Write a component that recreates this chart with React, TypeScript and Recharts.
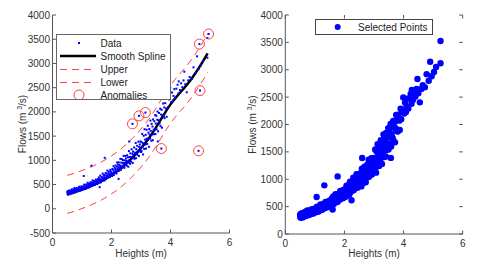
import {
  ComposedChart,
  Legend,
  Line,
  Scatter,
  XAxis,
  YAxis,
} from "recharts";

// gauged readings: stage height (m) vs flow (m3/s)
const HEIGHTS = [
  0.5, 0.51, 0.52, 0.52, 0.53, 0.54, 0.55, 0.56, 0.57, 0.58, 0.59, 0.6, 0.61, 0.63, 0.64, 0.65, 0.66, 0.67,
  0.69, 0.7, 0.71, 0.72, 0.74, 0.75, 0.76, 0.77, 0.79, 0.8, 0.81, 0.82, 0.84, 0.85, 0.86, 0.87, 0.89, 0.9,
  0.91, 0.93, 0.94, 0.95, 0.96, 0.97, 0.98, 0.99, 1.0,
  1.01, 1.02, 1.03, 1.05, 1.06, 1.06, 1.07, 1.09, 1.1, 1.11, 1.12, 1.14, 1.15, 1.16, 1.17, 1.19, 1.2, 1.21,
  1.22, 1.24, 1.25, 1.26, 1.27, 1.29, 1.3, 1.31, 1.32, 1.32, 1.34, 1.35, 1.36, 1.37, 1.39, 1.4, 1.41, 1.42,
  1.44, 1.45, 1.46, 1.47, 1.48, 1.49, 1.5,
  1.51, 1.52, 1.54, 1.55, 1.56, 1.57, 1.59, 1.6, 1.6, 1.61, 1.62, 1.64, 1.65, 1.66, 1.67, 1.69, 1.7, 1.71,
  1.72, 1.74, 1.75, 1.76, 1.77, 1.77, 1.79, 1.8, 1.81, 1.82, 1.84, 1.85, 1.86, 1.87, 1.89, 1.9, 1.91, 1.92,
  1.94, 1.95, 1.96, 1.97, 1.98, 2.0,
  2.01, 2.02, 2.03, 2.04, 2.06, 2.07, 2.08, 2.09, 2.11, 2.12, 2.13, 2.14, 2.15, 2.17, 2.18, 2.19, 2.2, 2.21,
  2.22, 2.24, 2.24, 2.25, 2.26, 2.27, 2.28, 2.3, 2.31, 2.32, 2.33, 2.34, 2.35, 2.37, 2.38, 2.39, 2.4, 2.41,
  2.42, 2.44, 2.45, 2.46, 2.47, 2.48, 2.49, 2.5,
  2.51, 2.52, 2.53, 2.55, 2.56, 2.57, 2.58, 2.59, 2.61, 2.62, 2.63, 2.64, 2.66, 2.67, 2.68, 2.69, 2.71, 2.72,
  2.73, 2.74, 2.76, 2.77, 2.78, 2.79, 2.81, 2.82, 2.83, 2.84, 2.86, 2.87, 2.88, 2.89, 2.91, 2.92, 2.93, 2.94,
  2.96, 2.97, 2.98, 2.99, 3.0, 2.6,
  3.01, 3.02, 3.04, 3.05, 3.06, 3.07, 3.09, 3.1, 3.11, 3.12, 3.14, 3.15, 3.16, 3.17, 3.19, 3.2, 3.21, 3.23,
  3.24, 3.25, 3.27, 3.28, 3.29, 3.31, 3.32, 3.33, 3.35, 3.36, 3.37, 3.39, 3.4, 3.41, 3.43, 3.44, 3.45, 3.47,
  3.48, 3.49, 3.5, 3.57,
  3.52, 3.53, 3.55, 3.56, 3.58, 3.6, 3.61, 3.63, 3.65, 3.66, 3.68, 3.7, 3.71, 3.73, 3.75, 3.77, 3.79, 3.8,
  3.82, 3.85, 3.87, 3.9, 3.92, 3.95, 3.99, 4.02,
  4.05, 4.08, 4.1, 4.13, 4.16, 4.2, 4.24, 4.27, 4.28, 4.32, 4.36, 4.4, 4.44, 4.47, 4.5,
  4.55, 4.6, 4.65, 4.72, 4.78, 4.85, 4.9, 4.95, 5.03, 5.1, 5.25, 5.25,
];
const FLOWS = [
  350, 307, 329, 364, 296, 323, 350, 312, 379, 336, 303, 355, 332, 381, 323, 360, 402, 339,
  358, 330, 387, 359, 428, 345, 377, 409, 368, 345, 397, 429, 368, 390, 422, 364, 408, 455,
  387, 401, 443, 375, 427, 404, 461, 423, 400,
  418, 460, 398, 443, 676, 415, 498, 433, 465, 408, 455, 501, 433, 486, 458, 538, 436, 488,
  516, 466, 489, 446, 519, 549, 476, 509, 496, 889, 541, 474, 586, 514, 539, 502, 574, 517,
  492, 564, 542, 604, 527, 559, 587,
  556, 509, 611, 550, 588, 647, 539, 447, 612, 581, 684, 546, 610, 658, 587, 649, 727, 586,
  624, 696, 650, 583, 1052, 687, 639, 737, 611, 684, 726, 650, 788, 682, 644, 727, 766, 689,
  721, 655, 803, 697, 765, 732,
  742, 677, 821, 721, 796, 880, 695, 765, 844, 744, 819, 894, 783, 728, 868, 957, 822, 777,
  912, 617, 861, 956, 786, 901, 840, 1030, 885, 804, 954, 879, 1024, 843, 943, 1003, 887, 1092,
  942, 846, 1001, 946, 1091, 905, 1040, 990,
  981, 888, 1104, 947, 1063, 869, 996, 1192, 965, 1071, 927, 1144, 1066, 973, 1229, 1045, 1138, 944,
  1181, 1107, 1050, 1266, 1032, 1159, 1136, 1358, 1044, 1231, 1133, 1300, 1116, 1192, 1385, 1181, 1088, 1274,
  1327, 1193, 1389, 1246, 1172, 1388,
  1380, 1189, 1545, 1274, 1352, 1121, 1507, 1346, 1234, 1642, 1429, 1327, 1526, 1244, 1631, 1449, 1338, 1714,
  1433, 1571, 1278, 1646, 1534, 1451, 1820, 1608, 1405, 1753, 1531, 1698, 1416, 1845, 1632, 1540, 1808, 1635,
  1934, 1542, 1760, 1390,
  1919, 1639, 1838, 2008, 1598, 1827, 1977, 1756, 2066, 1705, 1945, 2044, 1674, 1933, 2173, 1902, 2092, 1871,
  2181, 2070, 1899, 2288, 2098, 2257, 2495, 2201,
  2400, 2230, 2330, 2470, 2290, 2480, 2560, 2380, 2630, 2450, 2590, 2510, 2650, 2830, 2570,
  2405, 2650, 2720, 2680, 2920, 2800, 3147, 2880, 2960, 3050, 3118, 3525,
];

const ANOMALY_H = [2.71, 2.93, 3.15, 3.69, 4.95, 5.0, 4.98, 5.29];
const ANOMALY_F = [1753, 1918, 1986, 1243, 1196, 2440, 3400, 3608];

const SPLINE_H = [0.5, 0.75, 1, 1.25, 1.5, 1.75, 2, 2.25, 2.5, 2.75, 3, 3.25, 3.5, 3.75, 4, 4.25, 4.5, 4.75, 5, 5.26];
const SPLINE_F = [295, 340, 395, 455, 522, 602, 697, 805, 935, 1083, 1252, 1442, 1670, 1920, 2155, 2345, 2520, 2717, 2945, 3210];
const UPPER_F = [690, 735, 790, 850, 917, 997, 1092, 1200, 1330, 1478, 1647, 1837, 2065, 2315, 2550, 2740, 2915, 3112, 3340, 3605];
const LOWER_F = [-95, -50, 5, 65, 132, 212, 307, 415, 545, 693, 862, 1052, 1280, 1530, 1765, 1955, 2130, 2327, 2555, 2820];

const X_TICKS = [0, 2, 4, 6];
const Y_TICKS_LEFT = [-500, 0, 500, 1000, 1500, 2000, 2500, 3000, 3500, 4000];
const Y_TICKS_RIGHT = [0, 500, 1000, 1500, 2000, 2500, 3000, 3500, 4000];

const LEFT_LEGEND = ["Data", "Smooth Spline", "Upper", "Lower", "Anomalies"];
const RIGHT_LEGEND = ["Selected Points"];

const FONT = "'Liberation Sans', Arial, sans-serif";
const TEXT = "#333";
const AXIS = "#555";
const BLUE = "#0000ff";
const RED = "#ff4040";

const dataPts = HEIGHTS.map((x, i) => ({ x, y: FLOWS[i] }));
const anomalyPts = ANOMALY_H.map((x, i) => ({ x, y: ANOMALY_F[i] }));
const allPts = [...dataPts, ...anomalyPts];
const splineRows = SPLINE_H.map((x, i) => ({ x, v: SPLINE_F[i] }));
const upperRows = SPLINE_H.map((x, i) => ({ x, v: UPPER_F[i] }));
const lowerRows = SPLINE_H.map((x, i) => ({ x, v: LOWER_F[i] }));

const TICK_LEN = 3.5;

// MATLAB style: ticks point into the plot
function leftTick(axisX: number, mirrorX?: number) {
  return (p: any) => (
    <g>
      <line x1={axisX} x2={axisX + TICK_LEN} y1={p.y} y2={p.y} stroke={AXIS} />
      {mirrorX !== undefined && (
        <line x1={mirrorX} x2={mirrorX - TICK_LEN} y1={p.y} y2={p.y} stroke={AXIS} />
      )}
      <text x={axisX - 2.5} y={p.y + 3.5} textAnchor="end" fontSize={10} fill={TEXT} fontFamily={FONT}>
        {p.payload.value}
      </text>
    </g>
  );
}

function bottomTick(axisY: number, topY?: number) {
  return (p: any) => (
    <g>
      <line x1={p.x} x2={p.x} y1={axisY} y2={axisY - TICK_LEN} stroke={AXIS} />
      {topY !== undefined && (
        <line x1={p.x} x2={p.x} y1={topY} y2={topY + TICK_LEN} stroke={AXIS} />
      )}
      <text x={p.x} y={axisY + 12.5} textAnchor="middle" fontSize={10} fill={TEXT} fontFamily={FONT}>
        {p.payload.value}
      </text>
    </g>
  );
}

function xTitle(cx: number) {
  return () => (
    <text x={cx} y={257} textAnchor="middle" fontSize={10} fill={TEXT} fontFamily={FONT}>
      Heights (m)
    </text>
  );
}

function yTitle(cx: number, cy: number) {
  return () => (
    <text
      x={cx}
      y={cy}
      transform={`rotate(-90 ${cx} ${cy})`}
      textAnchor="middle"
      fontSize={10}
      fill={TEXT}
      fontFamily={FONT}
    >
      Flows (m <tspan dy={-4} fontSize={7}>3</tspan>
      <tspan dy={4}>/s)</tspan>
    </text>
  );
}

const dot = (p: any) => <rect x={p.cx - 1} y={p.cy - 1} width={2} height={2} fill={BLUE} />;
const bigDot = (p: any) => <circle cx={p.cx} cy={p.cy} r={3.2} fill={BLUE} />;
const ring = (p: any) => <circle cx={p.cx} cy={p.cy} r={5} fill="none" stroke={RED} strokeWidth={1} />;

function LeftLegendBox() {
  const rows = [8, 21, 34, 47, 60];
  return (
    <div
      style={{
        width: 115,
        height: 66,
        boxSizing: "border-box",
        border: "1px solid #666",
        background: "#fff",
      }}
    >
      <svg width={113} height={64} style={{ display: "block" }}>
        {LEFT_LEGEND.map((name, i) => {
          const y = rows[i];
          let icon = null;
          if (i === 0) icon = <rect x={21} y={y - 1} width={2} height={2} fill={BLUE} />;
          if (i === 1) icon = <line x1={3} x2={39} y1={y} y2={y} stroke="#000" strokeWidth={2.5} />;
          if (i === 2 || i === 3)
            icon = <line x1={3} x2={39} y1={y + 0.5} y2={y + 0.5} stroke={RED} strokeDasharray="7 5" />;
          if (i === 4) icon = <circle cx={22} cy={y} r={5} fill="none" stroke={RED} />;
          return (
            <g key={name}>
              {icon}
              <text x={43.5} y={y + 3.5} fontSize={10} fill="#222" fontFamily={FONT}>
                {name}
              </text>
            </g>
          );
        })}
      </svg>
    </div>
  );
}

function RightLegendBox() {
  return (
    <div
      style={{
        width: 118,
        height: 16,
        boxSizing: "border-box",
        border: "1px solid #444",
        background: "#fff",
      }}
    >
      <svg width={116} height={14} style={{ display: "block" }}>
        <circle cx={21.7} cy={7} r={3} fill={BLUE} />
        <text x={42} y={10.5} fontSize={10} fill="#222" fontFamily={FONT}>
          {RIGHT_LEGEND[0]}
        </text>
      </svg>
    </div>
  );
}

function LeftPanel() {
  return (
    <ComposedChart width={240} height={274} margin={{ top: 15, right: 10.5, bottom: 16, left: 0 }}>
      <XAxis
        dataKey="x"
        type="number"
        domain={[0, 6]}
        ticks={X_TICKS}
        interval={0}
        height={25}
        allowDataOverflow
        tickLine={false}
        axisLine={{ stroke: AXIS }}
        tick={bottomTick(233)}
        label={{ content: xTitle(141) }}
      />
      <YAxis
        type="number"
        domain={[-500, 4000]}
        ticks={Y_TICKS_LEFT}
        interval={0}
        width={52.5}
        allowDataOverflow
        tickLine={false}
        axisLine={{ stroke: AXIS }}
        tick={leftTick(52.5)}
        label={{ content: yTitle(26, 124) }}
      />
      <Scatter name="Data" data={allPts} dataKey="y" shape={dot} isAnimationActive={false} />
      <Line data={splineRows} dataKey="v" type="monotone" stroke="#000" strokeWidth={2.5} dot={false} isAnimationActive={false} />
      <Line data={upperRows} dataKey="v" type="monotone" stroke={RED} strokeDasharray="7 5" dot={false} isAnimationActive={false} />
      <Line data={lowerRows} dataKey="v" type="monotone" stroke={RED} strokeDasharray="7 5" dot={false} isAnimationActive={false} />
      <Scatter name="Anomalies" data={anomalyPts} dataKey="y" shape={ring} isAnimationActive={false} />
      <Legend
        layout="vertical"
        align="center"
        verticalAlign="middle"
        content={() => <LeftLegendBox />}
        wrapperStyle={{ left: 56, top: 34, width: 115, height: 66 }}
      />
    </ComposedChart>
  );
}

function RightPanel() {
  return (
    <ComposedChart width={240} height={274} margin={{ top: 15, right: 17.3, bottom: 15, left: 0 }}>
      <XAxis
        dataKey="x"
        type="number"
        domain={[0, 6]}
        ticks={X_TICKS}
        interval={0}
        height={25}
        allowDataOverflow
        tickLine={false}
        axisLine={{ stroke: AXIS }}
        tick={bottomTick(234, 15)}
        label={{ content: xTitle(134) }}
      />
      <XAxis
        xAxisId="top"
        orientation="top"
        type="number"
        domain={[0, 6]}
        ticks={X_TICKS}
        height={0}
        tick={false}
        tickLine={false}
        axisLine={{ stroke: AXIS }}
      />
      <YAxis
        type="number"
        domain={[0, 4000]}
        ticks={Y_TICKS_RIGHT}
        interval={0}
        width={45.3}
        allowDataOverflow
        tickLine={false}
        axisLine={{ stroke: AXIS }}
        tick={leftTick(45.3, 222.7)}
        label={{ content: yTitle(15.5, 124.5) }}
      />
      <YAxis
        yAxisId="right"
        orientation="right"
        type="number"
        domain={[0, 4000]}
        width={0}
        tick={false}
        tickLine={false}
        axisLine={{ stroke: AXIS }}
      />
      <Scatter name="Selected Points" data={dataPts} dataKey="y" shape={bigDot} isAnimationActive={false} />
      <Legend
        layout="vertical"
        align="center"
        verticalAlign="middle"
        content={() => <RightLegendBox />}
        wrapperStyle={{ left: 75, top: 18.5, width: 118, height: 16 }}
      />
    </ComposedChart>
  );
}

export default function App() {
  return (
    <div style={{ position: "absolute", left: 0, top: 0, width: 480, height: 274, background: "#fff" }}>
      <div style={{ position: "absolute", left: 0, top: 0 }}>
        <LeftPanel />
      </div>
      <div style={{ position: "absolute", left: 240, top: 0 }}>
        <RightPanel />
      </div>
    </div>
  );
}
